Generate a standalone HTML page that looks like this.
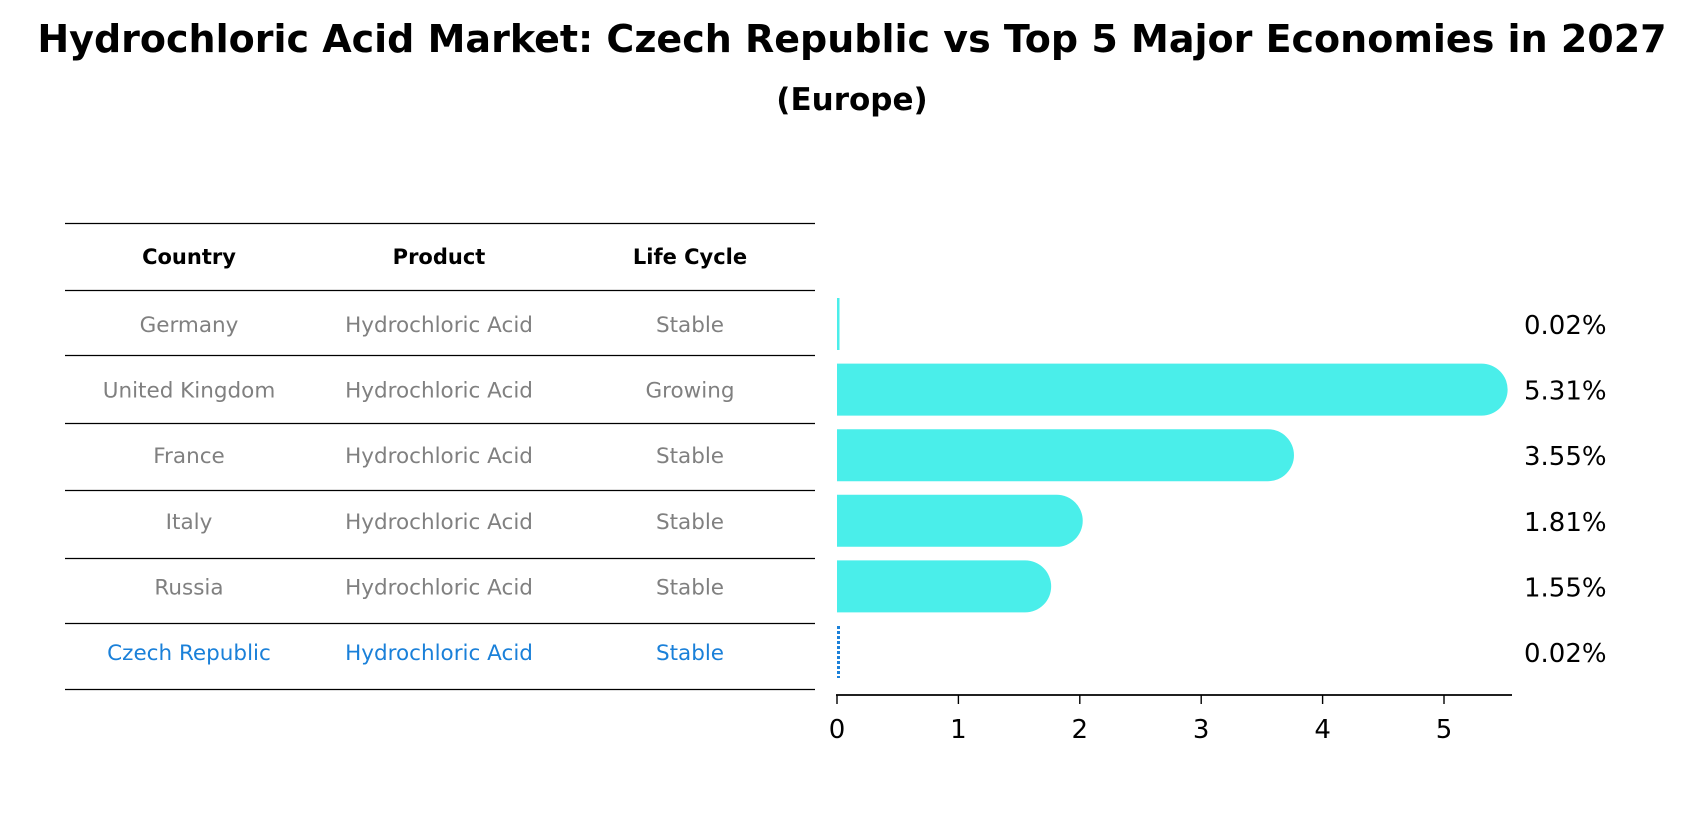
<!DOCTYPE html>
<html><head><meta charset="utf-8"><style>
body{margin:0;background:#fff;width:1704px;height:823px;overflow:hidden;font-family:"Liberation Sans","DejaVu Sans",sans-serif}
</style></head><body>
<svg width="1704" height="823" xmlns="http://www.w3.org/2000/svg" style="font-family:'DejaVu Sans','Liberation Sans',sans-serif">
<text x="852" y="52" text-anchor="middle" font-size="38" font-weight="bold">Hydrochloric Acid Market: Czech Republic vs Top 5 Major Economies in 2027</text>
<text x="852" y="110" text-anchor="middle" font-size="31" font-weight="bold">(Europe)</text>
<g id="table"></g>
<g id="bars"></g>
</svg>
<script>
const countries=["Germany","United Kingdom","France","Italy","Russia","Czech Republic"];
const products=["Hydrochloric Acid","Hydrochloric Acid","Hydrochloric Acid","Hydrochloric Acid","Hydrochloric Acid","Hydrochloric Acid"];
const lifeCycles=["Stable","Growing","Stable","Stable","Stable","Stable"];
const values=[0.02,5.31,3.55,1.81,1.55,0.02];
const valueLabels=["0.02%","5.31%","3.55%","1.81%","1.55%","0.02%"];
const ticks=[0,1,2,3,4,5];
const NS="http://www.w3.org/2000/svg";
function mk(tag,attrs,parent){const e=document.createElementNS(NS,tag);for(const k in attrs)e.setAttribute(k,attrs[k]);parent.appendChild(e);return e;}
const tbl=document.getElementById('table'),bars=document.getElementById('bars');
const rowY=i=>324+i*65.6;
const xs=v=>837+v*121.4;
const lineYs=[223,290,355,423,490,558,623,689];
lineYs.forEach((y,i)=>{const l=mk('line',{x1:65,x2:815,y1:y+0.5,y2:y+0.5,stroke:'#000','stroke-width':1.2},tbl);

});
const colX=[189,439,690];
["Country","Product","Life Cycle"].forEach((h,j)=>{const t=mk('text',{x:colX[j],y:264,'text-anchor':'middle','font-size':21,'font-weight':'bold'},tbl);t.textContent=h;

});
countries.forEach((c,i)=>{
 const col=i===countries.length-1?'#1a80d9':'#808080';
 [c,products[i],lifeCycles[i]].forEach((s,j)=>{const t=mk('text',{x:colX[j],y:rowY(i)+8,'text-anchor':'middle','font-size':21.5,fill:col},tbl);t.textContent=s;
 
 });
 const y=rowY(i),h=52,r=26,w=xs(values[i])-xs(0);
 if(i===countries.length-1){
  const b=mk('line',{x1:xs(0)+1.5,x2:xs(0)+1.5,y1:y-26,y2:y+26,stroke:'#1a80d9','stroke-width':3,'stroke-dasharray':'3 2'},bars);
  
  
 } else if(w>r){
  const b=mk('path',{d:`M${xs(0)},${y-h/2} H${xs(0)+w} A${r},${r} 0 0 1 ${xs(0)+w},${y+h/2} H${xs(0)} Z`,fill:'#4aeeea'},bars);
  
  
 } else {
  const b=mk('rect',{x:xs(0),y:y-h/2,width:Math.max(w,2.5),height:h,fill:'#4aeeea'},bars);
  
  
 }
 const t=mk('text',{x:1524,y:y+10,'font-size':26},bars);t.textContent=valueLabels[i];
 
 
});
const ax=mk('line',{x1:xs(0)-1,x2:1512,y1:695,y2:695,stroke:'#000','stroke-width':1.8},bars);


ticks.forEach(v=>{const tk=mk('line',{x1:xs(v),x2:xs(v),y1:695,y2:704,stroke:'#000','stroke-width':1.4},bars);
 
 
 const t=mk('text',{x:xs(v),y:738,'text-anchor':'middle','font-size':26},bars);t.textContent=v;
 
 });
</script>
</body></html>
